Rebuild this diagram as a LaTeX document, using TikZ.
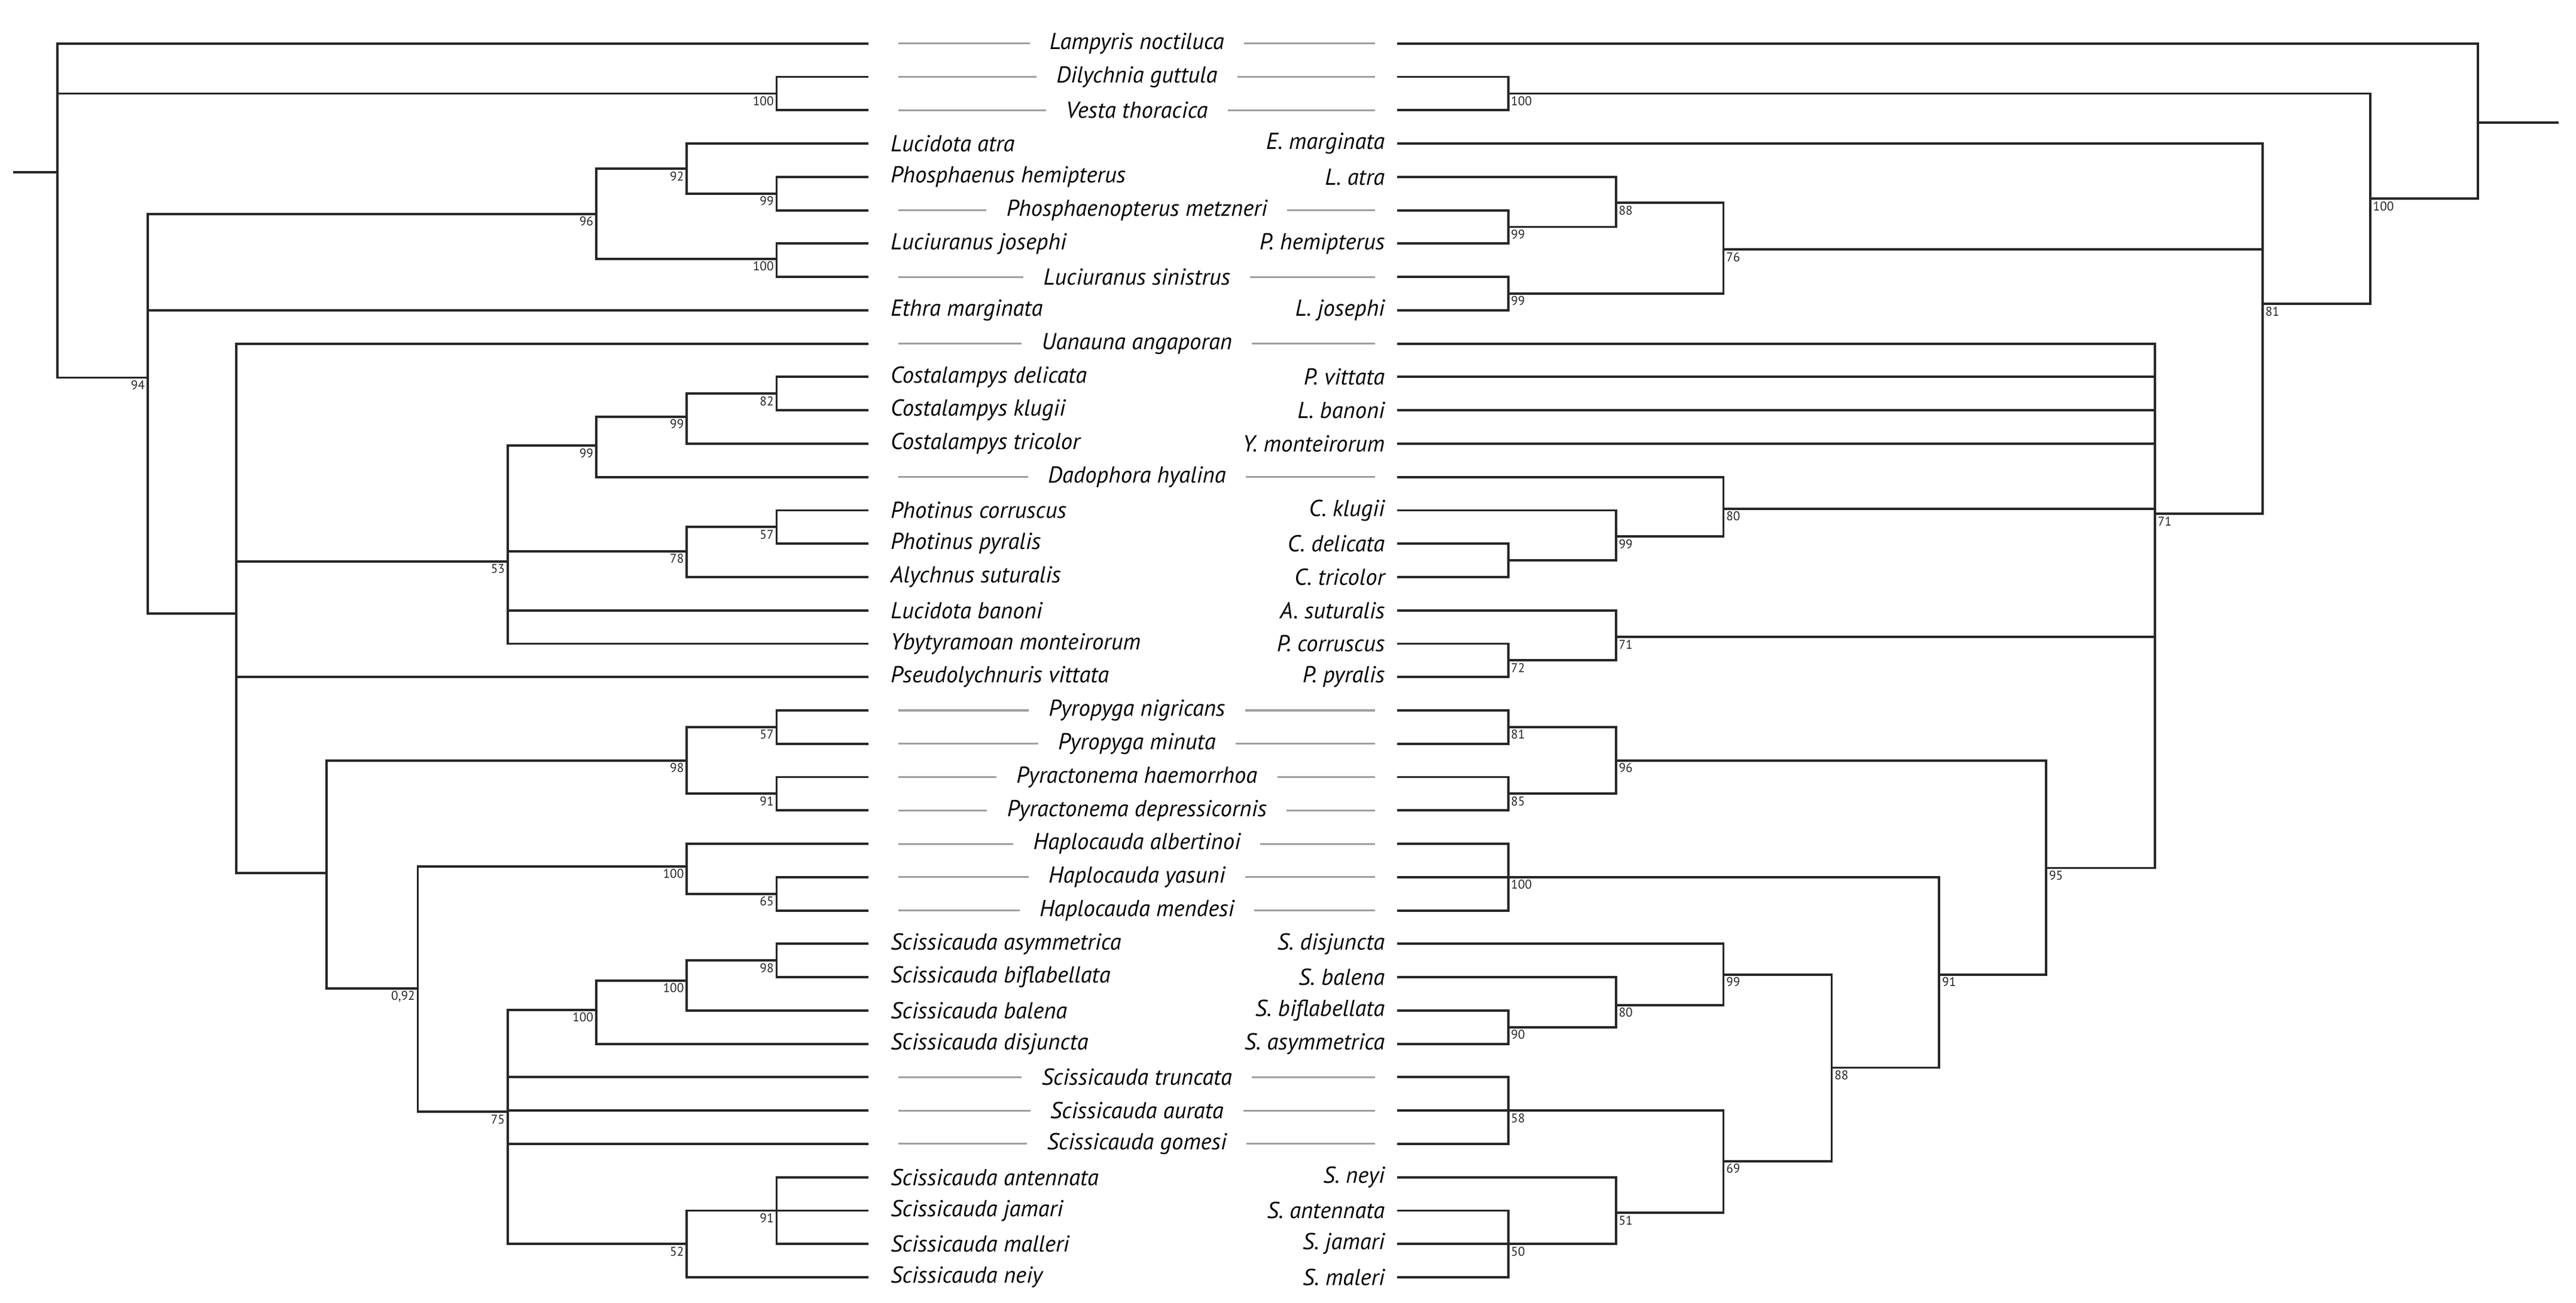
\documentclass[tikz,border=0pt]{standalone}
\usepackage{fontspec}
\setmainfont{PT Sans}
\newcommand{\R}[1]{26.5+20.3*#1}
\begin{document}
\begin{tikzpicture}[x=0.05cm,y=-0.05cm,
  br/.style={line width=2pt,line cap=rect,black!85},
  tl/.style={line width=1.6pt,gray!75},
  sp/.style={font=\itshape\fontsize{20}{20}\selectfont,inner sep=0pt},
  spl/.style={sp,anchor=west},
  spr/.style={sp,anchor=east},
  spc/.style={sp,anchor=center,inner xsep=0.6cm},
  bl/.style={font=\fontsize{11}{11}\selectfont,anchor=north east,inner sep=1.5pt},
  brr/.style={font=\fontsize{11}{11}\selectfont,anchor=north west,inner sep=1.5pt}]
\useasboundingbox (0,0) rectangle (1568,793);
% ---------- leaf branches, left tree
\foreach \r/\x in {0/34.8,1/472.7,2/472.7,3/418,4/472.7,5/472.7,6/472.7,7/472.7,8/89.9,9/143.8,10/472.7,11/472.7,12/418,13/362.9,14/472.7,15/472.7,16/418,17/309,18/309,19/143.8,20/472.7,21/472.7,22/472.7,23/472.7,24/418,25/472.7,26/472.7,27/472.7,28/472.7,29/418,30/362.9,31/309,32/309,33/309,34/472.7,35/472.7,36/472.7,37/418}
  \draw[br] (\x,{\R{\r}}) -- (528,{\R{\r}});
% ---------- leaf branches, right tree
\foreach \r/\x in {0/1508.3,1/918,2/918,3/1377.2,4/983.6,5/918,6/918,7/918,8/918,9/1311.7,10/1311.7,11/1311.7,12/1311.7,13/1049,14/983.6,15/918,16/918,17/983.6,18/918,19/918,20/918,21/918,22/918,23/918,24/918,25/918,26/918,27/1049,28/983.6,29/918,30/918,31/918,32/918,33/918,34/983.6,35/918,36/918,37/918}
  \draw[br] (851,{\R{\r}}) -- (\x,{\R{\r}});
% ---------- left tree internal
\draw[br] (8.7,104.7) -- (34.8,104.7);
\draw[br] (34.8,{\R{0}}) -- (34.8,229.9);
\draw[br] (34.8,56.95) -- (472.7,56.95) node[bl] (lb1) {100};
\draw[br] (472.7,{\R{1}}) -- (472.7,{\R{2}});
\draw[br] (34.8,229.9) -- (89.9,229.9) node[bl] (lb2) {94};
\draw[br] (89.9,130.3) -- (89.9,373.4);
\draw[br] (89.9,130.3) -- (362.9,130.3) node[bl] (lb3) {96};
\draw[br] (362.9,102.7) -- (362.9,157.6);
\draw[br] (362.9,102.7) -- (418,102.7) node[bl] (lb4) {92};
\draw[br] (418,{\R{3}}) -- (418,117.85);
\draw[br] (418,117.85) -- (472.7,117.85) node[bl] (lb5) {99};
\draw[br] (472.7,{\R{4}}) -- (472.7,{\R{5}});
\draw[br] (362.9,157.6) -- (472.7,157.6) node[bl] (lb6) {100};
\draw[br] (472.7,{\R{6}}) -- (472.7,{\R{7}});
\draw[br] (89.9,373.4) -- (143.8,373.4);
\draw[br] (143.8,{\R{9}}) -- (143.8,531.5);
\draw[br] (143.8,341.8) -- (309,341.8) node[bl] (lb7) {53};
\draw[br] (309,271.3) -- (309,{\R{18}});
\draw[br] (309,271.3) -- (362.9,271.3) node[bl] (lb8) {99};
\draw[br] (362.9,253.6) -- (362.9,{\R{13}});
\draw[br] (362.9,253.6) -- (418,253.6) node[bl] (lb9) {99};
\draw[br] (418,239.65) -- (418,{\R{12}});
\draw[br] (418,239.65) -- (472.7,239.65) node[bl] (lb10) {82};
\draw[br] (472.7,{\R{10}}) -- (472.7,{\R{11}});
\draw[br] (309,335.5) -- (418,335.5) node[bl] (lb11) {78};
\draw[br] (418,320.85) -- (418,{\R{16}});
\draw[br] (418,320.85) -- (472.7,320.85) node[bl] (lb12) {57};
\draw[br] (472.7,{\R{14}}) -- (472.7,{\R{15}});
\draw[br] (143.8,531.5) -- (198.9,531.5);
\draw[br] (198.9,462.95) -- (198.9,601.7);
\draw[br] (198.9,462.95) -- (418,462.95) node[bl] (lb13) {98};
\draw[br] (418,442.65) -- (418,483.25);
\draw[br] (418,442.65) -- (472.7,442.65) node[bl] (lb14) {57};
\draw[br] (472.7,{\R{20}}) -- (472.7,{\R{21}});
\draw[br] (418,483.25) -- (472.7,483.25) node[bl] (lb15) {91};
\draw[br] (472.7,{\R{22}}) -- (472.7,{\R{23}});
\draw[br] (198.9,601.7) -- (254.3,601.7) node[bl] (lb16) {0,92};
\draw[br] (254.3,527.5) -- (254.3,676.9);
\draw[br] (254.3,527.5) -- (418,527.5) node[bl] (lb17) {100};
\draw[br] (418,{\R{24}}) -- (418,544.15);
\draw[br] (418,544.15) -- (472.7,544.15) node[bl] (lb18) {65};
\draw[br] (472.7,{\R{25}}) -- (472.7,{\R{26}});
\draw[br] (254.3,676.9) -- (309,676.9) node[bl] (lb19) {75};
\draw[br] (309,614.8) -- (309,{\R{36}});
\draw[br] (309,614.8) -- (362.9,614.8) node[bl] (lb20) {100};
\draw[br] (362.9,597) -- (362.9,{\R{30}});
\draw[br] (362.9,597) -- (418,597) node[bl] (lb21) {100};
\draw[br] (418,584.75) -- (418,{\R{29}});
\draw[br] (418,584.75) -- (472.7,584.75) node[bl] (lb22) {98};
\draw[br] (472.7,{\R{27}}) -- (472.7,{\R{28}});
\draw[br] (309,{\R{36}}) -- (418,{\R{36}}) node[bl] (lb23) {52};
\draw[br] (418,{\R{35}}) -- (418,{\R{37}});
\draw[br] (418,{\R{35}}) -- (472.7,{\R{35}}) node[bl] (lb24) {91};
\draw[br] (472.7,{\R{34}}) -- (472.7,{\R{36}});
% ---------- right tree internal
\draw[br] (1508.3,74.5) -- (1556.6,74.5);
\draw[br] (1508.3,{\R{0}}) -- (1508.3,120.9);
\draw[br] (1508.3,120.9) -- (1442.7,120.9) node[brr] (rb1) {100};
\draw[br] (1442.7,56.95) -- (1442.7,185);
\draw[br] (1442.7,56.95) -- (918,56.95) node[brr] (rb2) {100};
\draw[br] (918,{\R{1}}) -- (918,{\R{2}});
\draw[br] (1442.7,185) -- (1377.2,185) node[brr] (rb3) {81};
\draw[br] (1377.2,{\R{3}}) -- (1377.2,312.8);
\draw[br] (1377.2,151.9) -- (1049,151.9) node[brr] (rb4) {76};
\draw[br] (1049,123.5) -- (1049,178.75);
\draw[br] (1049,123.5) -- (983.6,123.5) node[brr] (rb5) {88};
\draw[br] (983.6,{\R{4}}) -- (983.6,138.15);
\draw[br] (983.6,138.15) -- (918,138.15) node[brr] (rb6) {99};
\draw[br] (918,{\R{5}}) -- (918,{\R{6}});
\draw[br] (1049,178.75) -- (918,178.75) node[brr] (rb7) {99};
\draw[br] (918,{\R{7}}) -- (918,{\R{8}});
\draw[br] (1377.2,312.8) -- (1311.7,312.8) node[brr] (rb8) {71};
\draw[br] (1311.7,{\R{9}}) -- (1311.7,528.4);
\draw[br] (1311.7,309.8) -- (1049,309.8) node[brr] (rb9) {80};
\draw[br] (1049,{\R{13}}) -- (1049,326.7);
\draw[br] (1049,326.7) -- (983.6,326.7) node[brr] (rb10) {99};
\draw[br] (983.6,{\R{14}}) -- (983.6,341.15);
\draw[br] (983.6,341.15) -- (918,341.15);
\draw[br] (918,{\R{15}}) -- (918,{\R{16}});
\draw[br] (1311.7,387.8) -- (983.6,387.8) node[brr] (rb11) {71};
\draw[br] (983.6,{\R{17}}) -- (983.6,402.05);
\draw[br] (983.6,402.05) -- (918,402.05) node[brr] (rb12) {72};
\draw[br] (918,{\R{18}}) -- (918,{\R{19}});
\draw[br] (1311.7,528.4) -- (1245.5,528.4) node[brr] (rb13) {95};
\draw[br] (1245.5,462.95) -- (1245.5,593.3);
\draw[br] (1245.5,462.95) -- (983.6,462.95) node[brr] (rb14) {96};
\draw[br] (983.6,442.65) -- (983.6,483.25);
\draw[br] (983.6,442.65) -- (918,442.65) node[brr] (rb15) {81};
\draw[br] (918,{\R{20}}) -- (918,{\R{21}});
\draw[br] (983.6,483.25) -- (918,483.25) node[brr] (rb16) {85};
\draw[br] (918,{\R{22}}) -- (918,{\R{23}});
\draw[br] (1245.5,593.3) -- (1180.4,593.3) node[brr] (rb17) {91};
\draw[br] (1180.4,{\R{25}}) -- (1180.4,650);
\draw[br] (1180.4,{\R{25}}) -- (918,{\R{25}}) node[brr] (rb18) {100};
\draw[br] (918,{\R{24}}) -- (918,{\R{26}});
\draw[br] (1180.4,650) -- (1114.9,650) node[brr] (rb19) {88};
\draw[br] (1114.9,593.3) -- (1114.9,706.9);
\draw[br] (1114.9,593.3) -- (1049,593.3) node[brr] (rb20) {99};
\draw[br] (1049,{\R{27}}) -- (1049,611.9);
\draw[br] (1049,611.9) -- (983.6,611.9) node[brr] (rb21) {80};
\draw[br] (983.6,{\R{28}}) -- (983.6,625.35);
\draw[br] (983.6,625.35) -- (918,625.35) node[brr] (rb22) {90};
\draw[br] (918,{\R{29}}) -- (918,{\R{30}});
\draw[br] (1114.9,706.9) -- (1049,706.9) node[brr] (rb23) {69};
\draw[br] (1049,{\R{32}}) -- (1049,738.4);
\draw[br] (1049,{\R{32}}) -- (918,{\R{32}}) node[brr] (rb24) {58};
\draw[br] (918,{\R{31}}) -- (918,{\R{33}});
\draw[br] (1049,738.4) -- (983.6,738.4) node[brr] (rb25) {51};
\draw[br] (983.6,{\R{34}}) -- (983.6,{\R{36}});
\draw[br] (983.6,{\R{36}}) -- (918,{\R{36}}) node[brr] (rb26) {50};
\draw[br] (918,{\R{35}}) -- (918,{\R{37}});
% ---------- centered shared labels with connecting lines
\foreach \r/\t [count=\i] in {0/Lampyris noctiluca,1/Dilychnia guttula,2/Vesta thoracica,5/Phosphaenopterus metzneri,7/Luciuranus sinistrus,9/Uanauna angaporan,13/Dadophora hyalina,20/Pyropyga nigricans,21/Pyropyga minuta,22/Pyractonema haemorrhoa,23/Pyractonema depressicornis,24/Haplocauda albertinoi,25/Haplocauda yasuni,26/Haplocauda mendesi,31/Scissicauda truncata,32/Scissicauda aurata,33/Scissicauda gomesi}{
  \node[spc] (c\i) at (692,{\R{\r}}) {\t};
  \draw[tl] (546.8,{\R{\r}}) -- (c\i.west);
  \draw[tl] (c\i.east) -- (837,{\R{\r}});
}
% ---------- left labels
\foreach \r/\t [count=\i] in {3/Lucidota atra,4/Phosphaenus hemipterus,6/Luciuranus josephi,8/Ethra marginata,10/Costalampys delicata,11/Costalampys klugii,12/Costalampys tricolor,14/Photinus corruscus,15/Photinus pyralis,16/Alychnus suturalis,17/Lucidota banoni,18/Ybytyramoan monteirorum,19/Pseudolychnuris vittata,27/Scissicauda asymmetrica,28/Scissicauda biflabellata,29/Scissicauda balena,30/Scissicauda disjuncta,34/Scissicauda antennata,35/Scissicauda jamari,36/Scissicauda malleri,37/Scissicauda neiy}
  \node[spl] (l\i) at (542,{\R{\r}}) {\t};
% ---------- right labels
\foreach \r/\t [count=\i] in {3/E. marginata,4/L. atra,6/P. hemipterus,8/L. josephi,10/P. vittata,11/L. banoni,12/Y. monteirorum,14/C. klugii,15/C. delicata,16/C. tricolor,17/A. suturalis,18/P. corruscus,19/P. pyralis,27/S. disjuncta,28/S. balena,29/S. biflabellata,30/S. asymmetrica,34/S. neyi,35/S. antennata,36/S. jamari,37/S. maleri}
  \node[spr] (r\i) at (843,{\R{\r}}) {\t};
\end{tikzpicture}
\end{document}
